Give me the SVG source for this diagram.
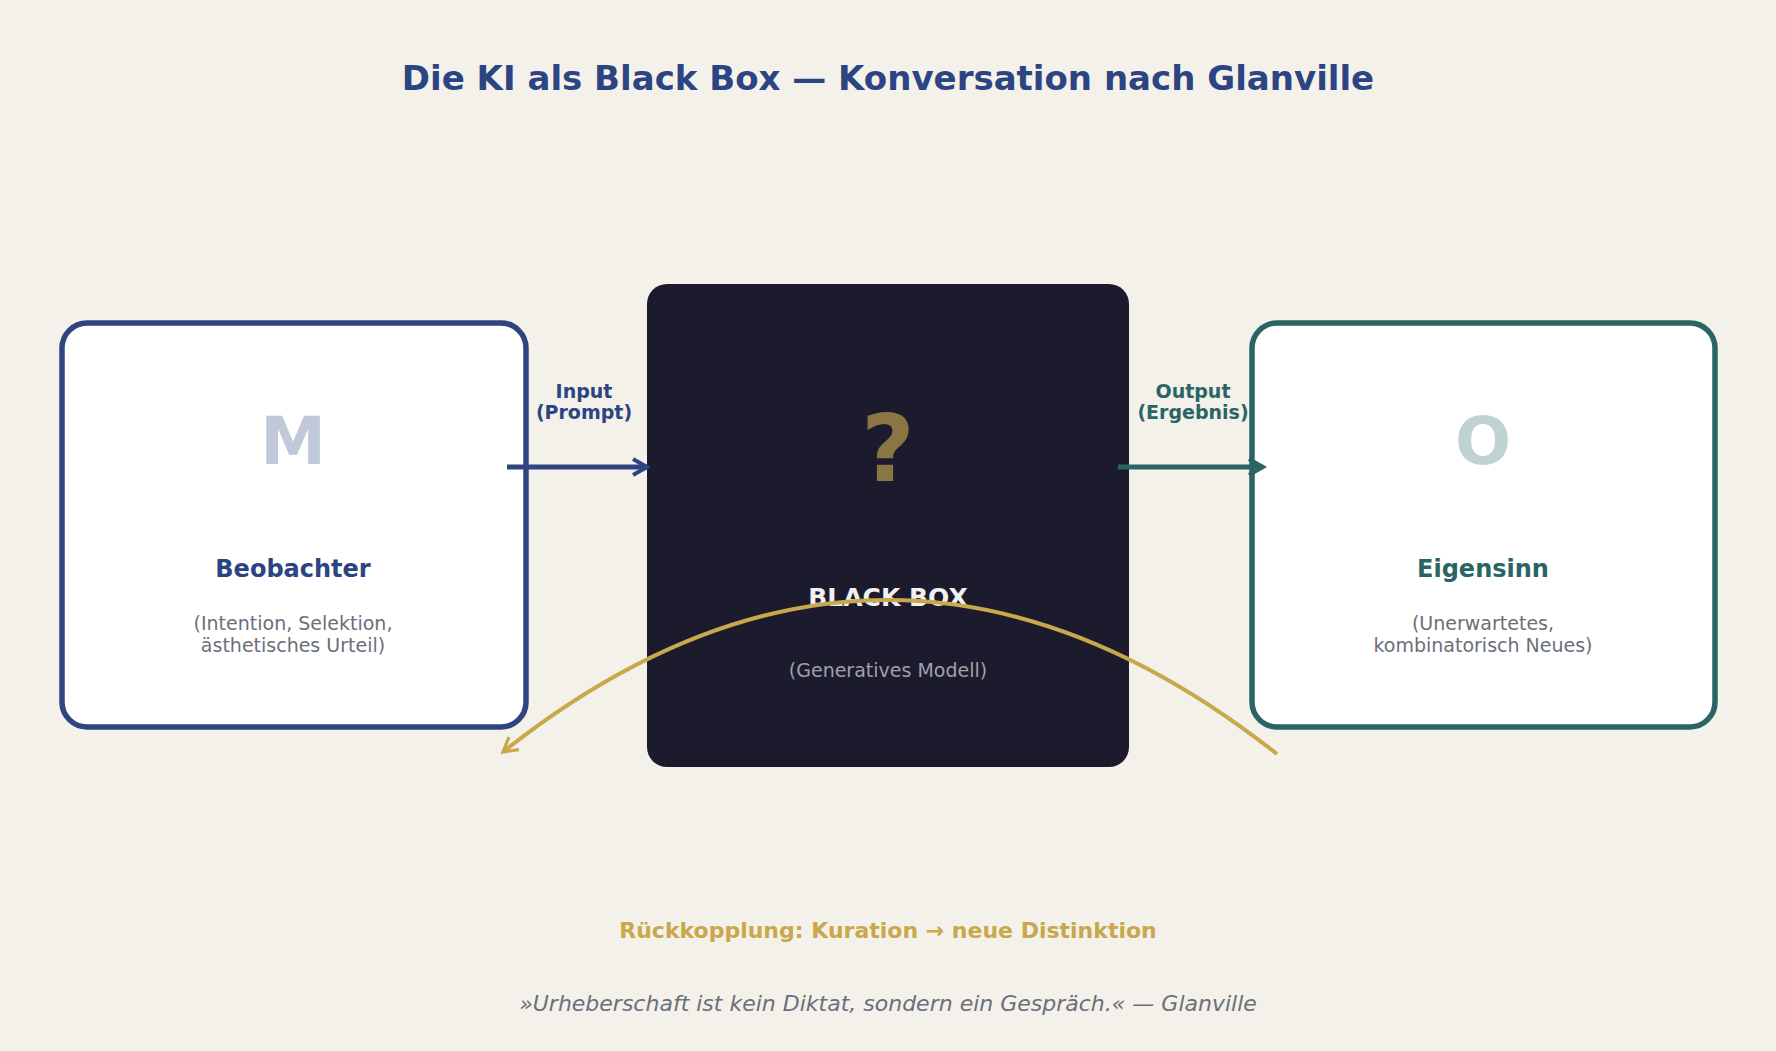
<svg xmlns="http://www.w3.org/2000/svg" width="1776" height="1051" viewBox="0 0 1776 1051">
<style>
text{font-family:"DejaVu Sans","Noto Sans",sans-serif;text-anchor:middle}
.sub{font-size:19px;fill:#6b6f7a}
.lbl{font-size:19px;font-weight:bold}
</style>
<defs>
<marker id="aBlue" viewBox="0 0 10 10" refX="8" refY="5" markerWidth="4" markerHeight="4" orient="auto"><path d="M1,1 L8,5 L1,9" fill="none" stroke="#2f4580" stroke-width="2"/></marker>
<marker id="aTeal" viewBox="0 0 10 10" refX="8" refY="5" markerWidth="4" markerHeight="4" orient="auto"><path d="M1,1 L8,5 L1,9" fill="none" stroke="#2a6464" stroke-width="2"/></marker>
<marker id="aGold" viewBox="0 0 10 10" refX="8" refY="5" markerWidth="5" markerHeight="5" orient="auto"><path d="M1,1 L8,5 L1,9" fill="none" stroke="#c8a84b" stroke-width="1.6"/></marker>
</defs>
<rect width="1776" height="1051" fill="#f3f1ea"/>
<text x="888" y="90" font-size="34" font-weight="bold" fill="#2c4482">Die KI als Black Box — Konversation nach Glanville</text>
<g id="observer">
<rect x="62" y="323" width="464" height="404" rx="25" fill="#fff" stroke="#2f4580" stroke-width="5.5"/>
<text x="293" y="464" font-size="66" font-weight="bold" fill="#c0c8da">M</text>
<text x="293" y="577" font-size="24" font-weight="bold" fill="#2c4482">Beobachter</text>
<text x="293" y="630" class="sub">(Intention, Selektion,</text>
<text x="293" y="652" class="sub">ästhetisches Urteil)</text>
</g>
<g id="blackbox">
<rect x="647" y="284" width="482" height="483" rx="20" fill="#1b1b2d"/>
<text x="888" y="481" font-size="92" font-weight="bold" fill="#8a7643">?</text>
<text x="888" y="606" font-size="25" font-weight="bold" fill="#f0f0f2">BLACK BOX</text>
<text x="888" y="677" class="sub" fill="#a0a0a8" style="fill:#a0a0a8">(Generatives Modell)</text>
</g>
<g id="eigensinn">
<rect x="1252" y="323" width="463" height="404" rx="25" fill="#fff" stroke="#2a6464" stroke-width="5.5"/>
<text x="1483" y="464" font-size="66" font-weight="bold" fill="#bfd3d3">O</text>
<text x="1483" y="577" font-size="24" font-weight="bold" fill="#2a6464">Eigensinn</text>
<text x="1483" y="630" class="sub">(Unerwartetes,</text>
<text x="1483" y="652" class="sub">kombinatorisch Neues)</text>
</g>
<g id="connectors">
<line x1="507" y1="467" x2="647" y2="467" stroke="#2f4580" stroke-width="5" marker-end="url(#aBlue)"/>
<text x="584" y="398" class="lbl" fill="#2c4482">Input</text>
<text x="584" y="419" class="lbl" fill="#2c4482">(Prompt)</text>
<line x1="1118" y1="467" x2="1263" y2="467" stroke="#2a6464" stroke-width="5" marker-end="url(#aTeal)"/>
<text x="1193" y="398" class="lbl" fill="#2a6464">Output</text>
<text x="1193" y="419" class="lbl" fill="#2a6464">(Ergebnis)</text>
<path d="M1277,754 Q888,447 503,752" fill="none" stroke="#c8a84b" stroke-width="4" marker-end="url(#aGold)"/>
</g>
<text x="888" y="938" font-size="22" font-weight="bold" fill="#c8a84b">Rückkopplung: Kuration → neue Distinktion</text>
<text x="888" y="1011" font-size="22" font-style="italic" fill="#6b6f7a">»Urheberschaft ist kein Diktat, sondern ein Gespräch.« — Glanville</text>
</svg>
